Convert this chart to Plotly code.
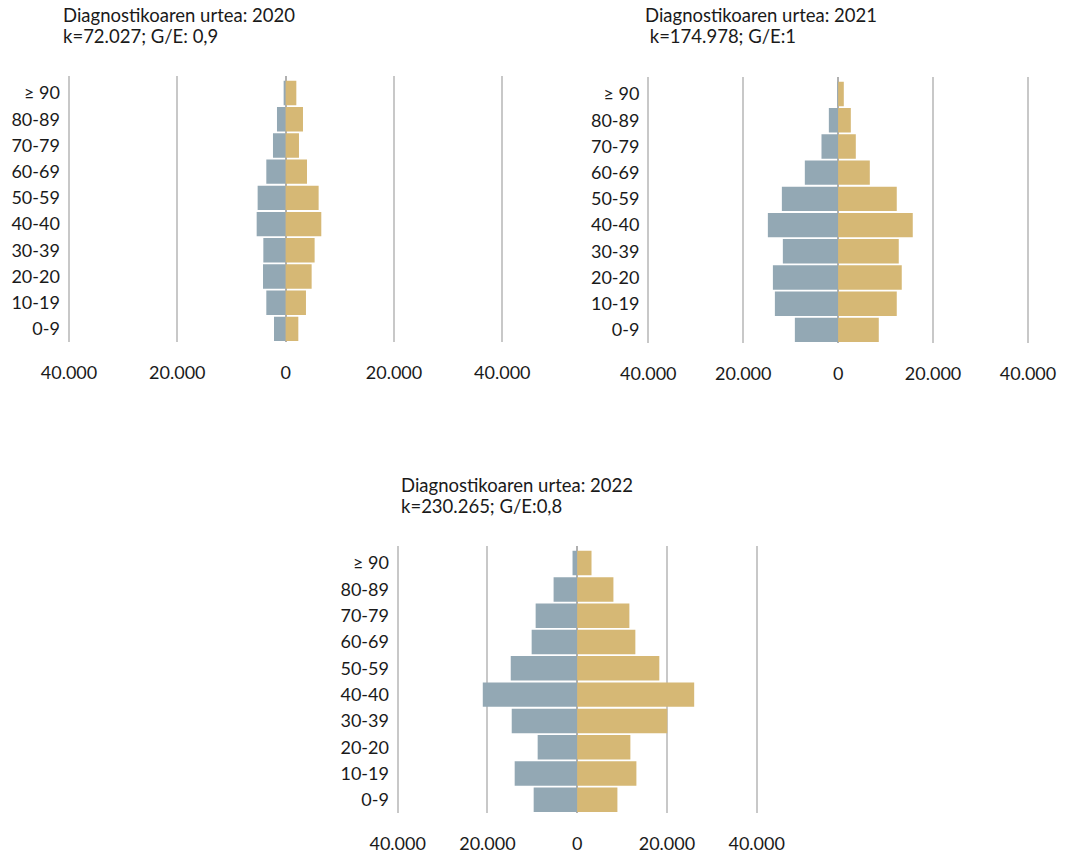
import plotly.graph_objects as go

# Age groups, bottom to top
ages = ["0-9", "10-19", "20-20", "30-39", "40-40", "50-59", "60-69", "70-79", "80-89", "≥ 90"]

# Diagnosed cases by sex (G = gizonak, E = emakumeak)
men_2020 = [2150, 3570, 4180, 4120, 5350, 5170, 3570, 2340, 1600, 370]
women_2020 = [2340, 3750, 4800, 5350, 6580, 6090, 3940, 2460, 3200, 1970]

men_2021 = [9120, 13330, 13750, 11650, 14810, 11860, 7020, 3510, 1960, 150]
women_2021 = [8560, 12350, 13400, 12770, 15720, 12350, 6670, 3720, 2670, 1190]

men_2022 = [9700, 13930, 8810, 14590, 21040, 14810, 10150, 9260, 5260, 1040]
women_2022 = [8960, 13190, 11850, 20070, 26070, 18300, 12960, 11630, 8070, 3190]

title_lines = [
    ["Diagnostikoaren urtea: 2020", "k=72.027; G/E: 0,9"],
    ["Diagnostikoaren urtea: 2021", " k=174.978; G/E:1"],
    ["Diagnostikoaren urtea: 2022", "k=230.265; G/E:0,8"],
]

tick_vals = [-40000, -20000, 0, 20000, 40000]
tick_text = ["40.000", "20.000", "0", "20.000", "40.000"]

W, H = 1071, 853
MEN_COLOR = "#93a8b4"
WOMEN_COLOR = "#d6b875"
FONT = "Lato, 'Noto Sans', sans-serif"
TEXT = "#1a1a1a"

# pixel frames for each pyramid: x of -40.000, x of +40.000, top, bottom
frames = [
    (69, 502.3, 76, 342),
    (648.3, 1028, 77, 343),
    (397.7, 756.7, 546, 813),
]
# title anchors: left x, centre y of first line (pixels); line pitch
title_pos = [(61, 15), (643, 15), (399, 485)]
LINE_PITCH = 21

XMAX = 40400
data = [(men_2020, women_2020), (men_2021, women_2021), (men_2022, women_2022)]

fig = go.Figure()
layout = dict(
    width=W, height=H,
    margin=dict(l=0, r=0, t=0, b=0),
    paper_bgcolor="white", plot_bgcolor="white",
    barmode="relative", bargap=0.07,
    showlegend=False,
    font=dict(family=FONT, color=TEXT, size=18),
    annotations=[],
)

for i, ((men, women), (xl, xr, yt, yb)) in enumerate(zip(data, frames)):
    n = "" if i == 0 else str(i + 1)
    xa, ya = "x" + n, "y" + n
    fig.add_trace(go.Bar(y=ages, x=[-v for v in men], orientation="h",
                         marker=dict(color=MEN_COLOR, line_width=0),
                         xaxis=xa, yaxis=ya, name="G"))
    fig.add_trace(go.Bar(y=ages, x=women, orientation="h",
                         marker=dict(color=WOMEN_COLOR, line_width=0),
                         xaxis=xa, yaxis=ya, name="E"))
    ppk = (xr - xl) / 80000.0
    x0 = xl - (XMAX - 40000) * ppk
    x1 = xr + (XMAX - 40000) * ppk
    layout["xaxis" + n] = dict(
        domain=[x0 / W, x1 / W], range=[-XMAX, XMAX], anchor=ya,
        tickvals=tick_vals, ticktext=tick_text, automargin=False,
        showgrid=True, gridcolor="#c8c8c8", gridwidth=1.6,
        zeroline=True, zerolinecolor="#b0b0b0", zerolinewidth=1.6,
        showline=False, ticks="", ticklabelstandoff=18,
        tickfont=dict(size=18, color=TEXT), layer="above traces",
        fixedrange=True,
    )
    layout["yaxis" + n] = dict(
        domain=[1 - yb / H, 1 - yt / H], anchor=xa, automargin=False,
        type="category", categoryorder="array", categoryarray=ages,
        range=[-0.5, 9.65], showgrid=False, zeroline=False, showline=False,
        ticks="", ticklabelstandoff=6,
        tickfont=dict(size=18, color=TEXT), fixedrange=True,
    )
    tx, ty = title_pos[i]
    for k, line in enumerate(title_lines[i]):
        layout["annotations"].append(dict(
            text=line, xref="paper", yref="paper",
            x=tx / W, y=1 - (ty + k * LINE_PITCH) / H,
            xanchor="left", yanchor="middle",
            align="left", showarrow=False,
            font=dict(size=18.5, color=TEXT, family=FONT),
        ))

fig.update_layout(**layout)
fig.write_html("out.html")
